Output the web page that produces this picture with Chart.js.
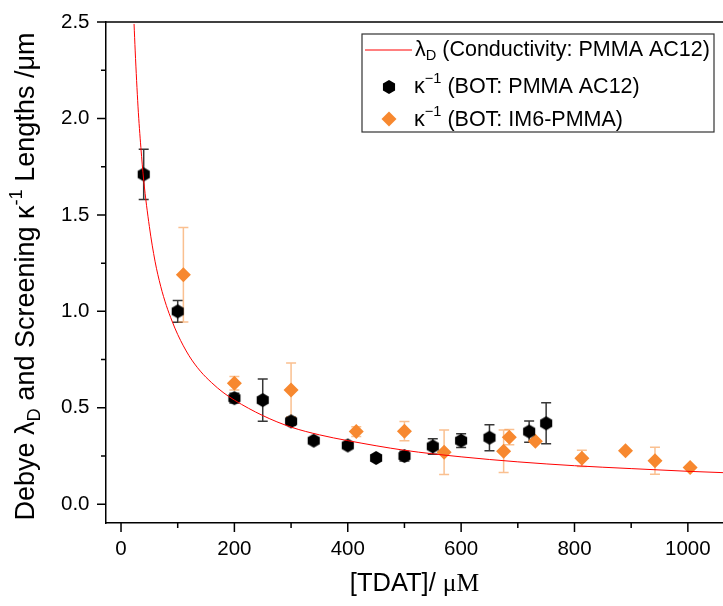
<!DOCTYPE html>
<html>
<head>
<meta charset="utf-8">
<script src="https://cdn.jsdelivr.net/npm/chart.js@4.4.0/dist/chart.umd.min.js"></script>
<style>
  html, body { margin: 0; padding: 0; background: #fff; }
  #wrap { width: 723px; height: 606px; }
</style>
</head>
<body>
<div id="wrap"><canvas id="grafico" width="723" height="606"></canvas></div>
<script>
// Valores
const curvaX = [23, 25, 30, 35, 40, 50, 60, 70, 80, 90, 100, 120, 140, 160, 180, 200, 250, 300, 350, 400, 500, 600, 700, 800, 900, 1000, 1062];
const curvaY = [2.49, 2.35, 2.06, 1.85, 1.68, 1.44, 1.26, 1.13, 1.03, 0.95, 0.88, 0.77, 0.69, 0.63, 0.58, 0.54, 0.46, 0.40, 0.36, 0.33, 0.28, 0.246, 0.22, 0.20, 0.185, 0.171, 0.164];

const botX = [40, 100, 200, 250, 300, 340, 400, 450, 500, 550, 600, 650, 720, 750];
const botY = [1.71, 1.00, 0.55, 0.54, 0.43, 0.33, 0.305, 0.24, 0.25, 0.30, 0.33, 0.345, 0.377, 0.42];
const botErr = [0.13, 0.056, 0.025, 0.11, 0.02, 0, 0, 0, 0.025, 0.04, 0.035, 0.067, 0.055, 0.106];

const im6X = [110, 200, 300, 415, 500, 570, 675, 685, 731, 813, 890, 942, 1004];
const im6Y = [1.19, 0.627, 0.592, 0.377, 0.379, 0.27, 0.275, 0.348, 0.327, 0.238, 0.277, 0.226, 0.191];
const im6Err = [0.245, 0.035, 0.14, 0.025, 0.05, 0.115, 0.11, 0.04, 0, 0.042, 0, 0.07, 0];

const ticksX = [0, 200, 400, 600, 800, 1000];
const ticksXMenores = [100, 300, 500, 700, 900];
const ticksY = [0.0, 0.5, 1.0, 1.5, 2.0, 2.5];
const ticksYMenores = [0.25, 0.75, 1.25, 1.75, 2.25];

const SANS = '"Liberation Sans", Arial, sans-serif';
const SERIF = '"Liberation Serif", "Times New Roman", serif';
const NARANJA = '#F7882F';

// Hexágono para los puntos negros
function crearHexagono(r, color) {
    const c = document.createElement('canvas');
    const s = Math.ceil(r * 2 + 2);
    c.width = s; c.height = s;
    const g = c.getContext('2d');
    g.fillStyle = color;
    g.beginPath();
    for (let i = 0; i < 6; i++) {
        const a = Math.PI / 2 + i * Math.PI / 3;
        const px = s / 2 + r * Math.cos(a);
        const py = s / 2 + r * Math.sin(a);
        if (i === 0) g.moveTo(px, py); else g.lineTo(px, py);
    }
    g.closePath();
    g.fill();
    return c;
}
const hexagono = crearHexagono(7, '#000');

// Texto con subíndices y superíndices
function anchoRico(ctx, partes, size, fam) {
    let w = 0;
    partes.forEach(p => {
        const s = (p.sub || p.sup) ? size * 0.68 : size;
        ctx.font = s + 'px ' + (p.fam || fam);
        w += ctx.measureText(p.t).width;
    });
    return w;
}
function dibujarRico(ctx, partes, x, y, size, fam) {
    ctx.textBaseline = 'middle';
    ctx.textAlign = 'left';
    let cx = x;
    partes.forEach(p => {
        const s = (p.sub || p.sup) ? size * 0.68 : size;
        let dy = 0;
        if (p.sub) dy = size * 0.3;
        if (p.sup) dy = -size * 0.38;
        ctx.font = s + 'px ' + (p.fam || fam);
        ctx.fillText(p.t, cx, y + dy);
        cx += ctx.measureText(p.t).width;
    });
}

const barrasError = {
    id: 'barrasError',
    beforeDatasetsDraw(chart) {
        const ctx = chart.ctx;
        const xs = chart.scales.x, ys = chart.scales.y;
        const series = [
            { x: botX, y: botY, e: botErr, color: 'rgba(20,20,20,0.85)' },
            { x: im6X, y: im6Y, e: im6Err, color: 'rgba(247,150,70,0.6)' }
        ];
        ctx.save();
        ctx.lineWidth = 1.5;
        series.forEach(s => {
            ctx.strokeStyle = s.color;
            s.x.forEach((v, i) => {
                if (!s.e[i]) return;
                const px = xs.getPixelForValue(v);
                const p1 = ys.getPixelForValue(s.y[i] + s.e[i]);
                const p2 = ys.getPixelForValue(s.y[i] - s.e[i]);
                ctx.beginPath();
                ctx.moveTo(px, p1); ctx.lineTo(px, p2);
                ctx.moveTo(px - 5, p1); ctx.lineTo(px + 5, p1);
                ctx.moveTo(px - 5, p2); ctx.lineTo(px + 5, p2);
                ctx.stroke();
            });
        });
        ctx.restore();
    }
};

const decoracion = {
    id: 'decoracion',
    afterDraw(chart) {
        const ctx = chart.ctx;
        const a = chart.chartArea;
        const xs = chart.scales.x, ys = chart.scales.y;
        ctx.save();
        ctx.strokeStyle = '#000';
        ctx.lineWidth = 1.5;
        // marco superior
        ctx.beginPath();
        ctx.moveTo(a.left, a.top); ctx.lineTo(a.right, a.top);
        ctx.stroke();
        // marcas de los ejes
        ctx.beginPath();
        ticksX.forEach(v => { const p = xs.getPixelForValue(v); ctx.moveTo(p, a.bottom); ctx.lineTo(p, a.bottom + 9); });
        ticksXMenores.forEach(v => { const p = xs.getPixelForValue(v); ctx.moveTo(p, a.bottom); ctx.lineTo(p, a.bottom + 5); });
        ticksY.forEach(v => { const p = ys.getPixelForValue(v); ctx.moveTo(a.left, p); ctx.lineTo(a.left - 9, p); });
        ticksYMenores.forEach(v => { const p = ys.getPixelForValue(v); ctx.moveTo(a.left, p); ctx.lineTo(a.left - 5, p); });
        ctx.stroke();

        ctx.fillStyle = '#000';
        // título eje x
        const tx = [{ t: '[TDAT]/ ' }, { t: 'μM', fam: SERIF }];
        const wx = anchoRico(ctx, tx, 25.5, SANS);
        dibujarRico(ctx, tx, (a.left + a.right) / 2 - wx / 2, 584, 25.5, SANS);

        // título eje y
        const ty = [{ t: 'Debye λ' }, { t: 'D', sub: true }, { t: ' and Screening κ' }, { t: '-1', sup: true }, { t: ' Lengths /μm' }];
        const wy = anchoRico(ctx, ty, 27, SANS);
        ctx.save();
        ctx.translate(27, (a.top + a.bottom) / 2 + 4);
        ctx.rotate(-Math.PI / 2);
        dibujarRico(ctx, ty, -wy / 2, 0, 27, SANS);
        ctx.restore();

        // leyenda
        ctx.fillStyle = '#fff';
        ctx.fillRect(362, 34, 352, 98);
        ctx.strokeStyle = '#333';
        ctx.lineWidth = 1.2;
        ctx.strokeRect(362, 34, 352, 98);
        ctx.strokeStyle = '#ff0000';
        ctx.lineWidth = 1;
        ctx.beginPath(); ctx.moveTo(365, 50); ctx.lineTo(412, 50); ctx.stroke();
        ctx.drawImage(hexagono, 389 - hexagono.width / 2, 87 - hexagono.height / 2);
        ctx.fillStyle = NARANJA;
        ctx.beginPath();
        ctx.moveTo(389, 111.5); ctx.lineTo(396.5, 119); ctx.lineTo(389, 126.5); ctx.lineTo(381.5, 119);
        ctx.closePath(); ctx.fill();
        ctx.fillStyle = '#000';
        dibujarRico(ctx, [{ t: 'λ' }, { t: 'D', sub: true }, { t: ' (Conductivity: PMMA AC12)' }], 415, 50, 21.5, SANS);
        dibujarRico(ctx, [{ t: 'κ' }, { t: '−1', sup: true }, { t: ' (BOT: PMMA AC12)' }], 414, 87, 21.5, SANS);
        dibujarRico(ctx, [{ t: 'κ' }, { t: '−1', sup: true }, { t: ' (BOT: IM6-PMMA)' }], 414, 120, 21.5, SANS);
        ctx.restore();
    }
};

function crearGrafico() {
    const ctx = document.getElementById('grafico').getContext('2d');
    new Chart(ctx, {
        type: 'scatter',
        data: {
            datasets: [
                {
                    label: 'λD (Conductivity: PMMA AC12)',
                    data: curvaX.map((x, i) => ({ x: x, y: curvaY[i] })),
                    showLine: true,
                    borderColor: '#ff0000',
                    borderWidth: 1,
                    pointRadius: 0,
                    cubicInterpolationMode: 'monotone'
                },
                {
                    label: 'κ-1 (BOT: PMMA AC12)',
                    data: botX.map((x, i) => ({ x: x, y: botY[i] })),
                    pointStyle: hexagono,
                    backgroundColor: '#000',
                    borderColor: '#000'
                },
                {
                    label: 'κ-1 (BOT: IM6-PMMA)',
                    data: im6X.map((x, i) => ({ x: x, y: im6Y[i] })),
                    pointStyle: 'rectRot',
                    pointRadius: 7.5,
                    borderWidth: 0,
                    backgroundColor: NARANJA,
                    borderColor: NARANJA
                }
            ]
        },
        options: {
            responsive: false,
            animation: false,
            layout: { autoPadding: false, padding: { top: 22, right: 0, left: 0, bottom: 0 } },
            plugins: {
                legend: { display: false },
                tooltip: { enabled: false }
            },
            scales: {
                x: {
                    type: 'linear',
                    min: -26.5,
                    max: 1062,
                    afterBuildTicks: (s) => { s.ticks = ticksX.map(v => ({ value: v })); },
                    afterFit: (s) => { s.height = 83; s.paddingLeft = 0; s.paddingRight = 0; },
                    grid: { display: false, drawTicks: false },
                    border: { display: true, color: '#000', width: 1.5 },
                    ticks: {
                        color: '#000',
                        padding: 14,
                        maxRotation: 0,
                        font: { family: SANS, size: 20.5 },
                        callback: (v) => String(v)
                    }
                },
                y: {
                    type: 'linear',
                    min: -0.097,
                    max: 2.5,
                    afterBuildTicks: (s) => { s.ticks = ticksY.map(v => ({ value: v })); },
                    afterFit: (s) => { s.width = 106; s.paddingTop = 0; s.paddingBottom = 0; },
                    grid: { display: false, drawTicks: false },
                    border: { display: true, color: '#000', width: 1.5 },
                    ticks: {
                        color: '#000',
                        padding: 16.5,
                        font: { family: SANS, size: 20.5 },
                        callback: (v) => v.toFixed(1)
                    }
                }
            }
        },
        plugins: [barrasError, decoracion]
    });
}

document.addEventListener('DOMContentLoaded', function() {
    crearGrafico();
});
</script>
</body>
</html>
